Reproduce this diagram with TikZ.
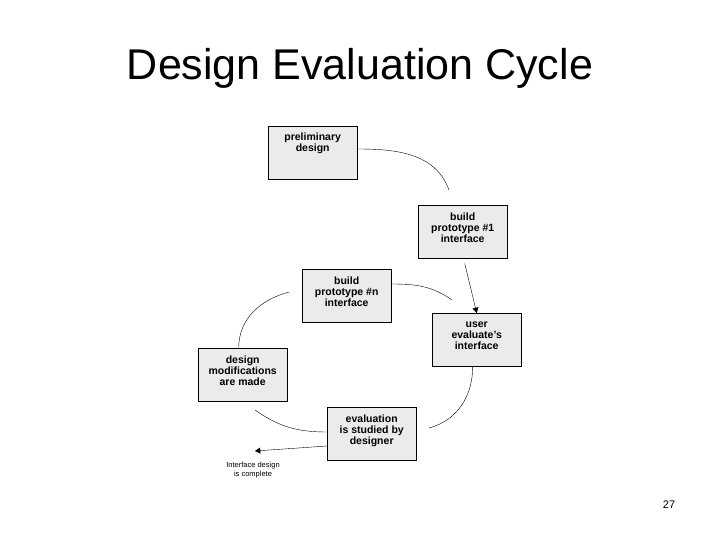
\documentclass[tikz,border=0pt]{standalone}
\usepackage{fontspec}
\setmainfont{Liberation Sans}
\usetikzlibrary{arrows}

\begin{document}
\begin{tikzpicture}[x=1pt,y=-1pt,>=triangle 60,thin,
                stage box/.style={rectangle,draw,fill=black!8,minimum width=89pt,minimum height=53pt,
                  align=center,font=\fontsize{10.5}{11}\selectfont\bfseries,inner sep=1pt}]
                \useasboundingbox (0,0) rectangle (720,540);
                \node (title) at (360,68) {\fontsize{43}{48}\selectfont Design Evaluation Cycle};
                \node[stage box,anchor=north west,text depth=22pt] (prelim) at (268,126) {preliminary\\design};
                \node[stage box,anchor=north west,text depth=8pt] (build1) at (418,205) {build\\prototype \#1\\interface};
                \node[stage box,anchor=north west,text depth=8pt] (buildn) at (302,269) {build\\prototype \#n\\interface};
                \node[stage box,anchor=north west,text depth=8pt] (user) at (432,313) {user\\evaluate's\\interface};
                \node[stage box,anchor=north west,text depth=8pt] (modif) at (198,348) {design\\modifications\\are made};
                \node[stage box,anchor=north west,text depth=8pt] (evalu) at (327,407) {evaluation\\is studied by\\designer};
                \node[font=\fontsize{7.5}{8.5}\selectfont,align=center] (done) at (253,470) {Interface design\\is complete};
                \node at (669,505) {\fontsize{11}{12}\selectfont 27};

                \coordinate (c1) at (449,190);
                \coordinate (c2) at (452,300);
                \coordinate (c3) at (429,428);
                \coordinate (c4) at (289,292);
                \coordinate (c5) at (255,410);
                \coordinate (c6) at (255,451);

                \draw (prelim.east |- 0,149) to[out=0,in=110] (c1);
                \draw[->] (build1.south) ++(2,5) -- (user.north);
                \draw (buildn.east |- 0,284) to[out=0,in=145] (c2);
                \draw (user.south) ++(-4,0) to[out=-90,in=15] (c3);
                \draw (modif.north) ++(-4,0) to[out=90,in=-165] (c4);
                \draw (evalu.west |- 0,432) to[out=180,in=-35] (c5);
                \draw[->] (evalu.west |- 0,446) -- (c6);
\end{tikzpicture}
\end{document}
